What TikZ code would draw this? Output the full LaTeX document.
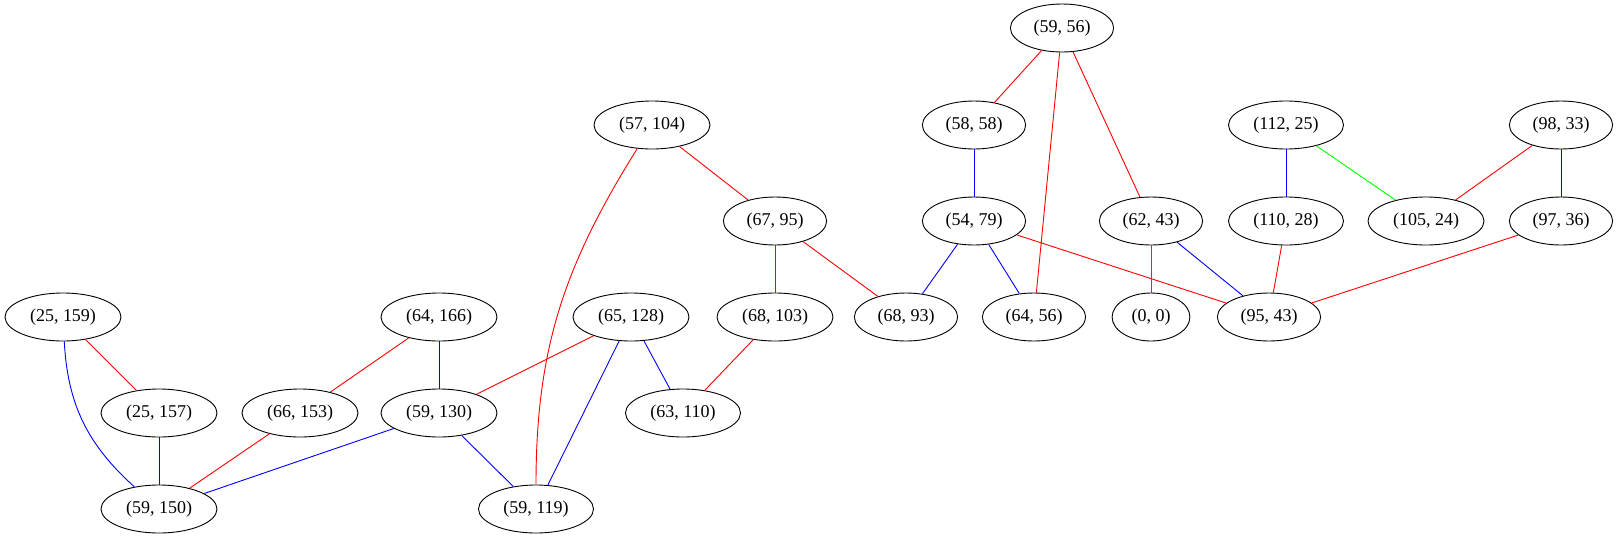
\documentclass[tikz,border=0pt]{standalone}
\usepackage{fontspec}
\setmainfont{Liberation Serif}
\usetikzlibrary{shapes.geometric}
\definecolor{gvpurple}{HTML}{A020F0}

\begin{document}
\begin{tikzpicture}[x=1pt, y=1pt,
        pt/.style={draw, ellipse, line width=0.9pt, inner xsep=8pt, inner ysep=0pt,
                   minimum height=48pt, font=\fontsize{18}{20}\selectfont},
        every path/.style={line width=0.9pt}]

                \useasboundingbox (0,0) rectangle (1618,-539);

                % Linha 1
                \node[pt] (n5956) at (1062,-28) {(59, 56)};

                % Linha 2
                \node[pt] (n57104) at (652,-125) {(57, 104)};
                \node[pt] (n5858) at (974,-125) {(58, 58)};
                \node[pt] (n11225) at (1286,-125) {(112, 25)};
                \node[pt] (n9833) at (1561,-125) {(98, 33)};

                % Linha 3
                \node[pt] (n6795) at (775,-221) {(67, 95)};
                \node[pt] (n5479) at (974,-221) {(54, 79)};
                \node[pt] (n6243) at (1151,-221) {(62, 43)};
                \node[pt] (n11028) at (1286,-221) {(110, 28)};
                \node[pt] (n10524) at (1426,-221) {(105, 24)};
                \node[pt] (n9736) at (1561,-221) {(97, 36)};

                % Linha 4
                \node[pt] (n25159) at (63,-317) {(25, 159)};
                \node[pt] (n64166) at (439,-317) {(64, 166)};
                \node[pt] (n65128) at (631,-317) {(65, 128)};
                \node[pt] (n68103) at (775,-317) {(68, 103)};
                \node[pt] (n6893) at (906,-317) {(68, 93)};
                \node[pt] (n6456) at (1034,-317) {(64, 56)};
                \node[pt] (n00) at (1151,-317) {(0, 0)};
                \node[pt] (n9543) at (1269,-317) {(95, 43)};

                % Linha 5
                \node[pt] (n25157) at (159,-413) {(25, 157)};
                \node[pt] (n66153) at (300,-413) {(66, 153)};
                \node[pt] (n59130) at (439,-413) {(59, 130)};
                \node[pt] (n63110) at (683,-413) {(63, 110)};

                % Linha 6
                \node[pt] (n59150) at (159,-509) {(59, 150)};
                \node[pt] (n59119) at (536,-509) {(59, 119)};

                % Arestas vermelhas
                \draw[red] (n5956) -- (n5858);
                \draw[red] (n5956) -- (n6456);
                \draw[red] (n5956) -- (n6243);
                \draw[red] (n57104) -- (n6795);
                \draw[red] (n57104) to[out=-122, in=90] (n59119);
                \draw[red] (n9833) -- (n10524);
                \draw[red] (n6795) -- (n68103);
                \draw[red] (n6795) -- (n6893);
                \draw[red] (n5479) -- (n9543);
                \draw[red] (n11028) -- (n9543);
                \draw[red] (n9736) -- (n9543);
                \draw[red] (n25159) -- (n25157);
                \draw[red] (n64166) -- (n66153);
                \draw[red] (n65128) -- (n59130);
                \draw[red] (n68103) -- (n63110);
                \draw[red] (n66153) -- (n59150);

                % Arestas azuis
                \draw[blue] (n5858) -- (n5479);
                \draw[blue] (n11225) -- (n11028);
                \draw[blue] (n9833) -- (n9736);
                \draw[blue] (n5479) -- (n6893);
                \draw[blue] (n5479) -- (n6456);
                \draw[blue] (n6243) -- (n9543);
                \draw[blue] (n25159) to[out=-87, in=138] (n59150);
                \draw[blue] (n64166) -- (n59130);
                \draw[blue] (n65128) -- (n59119);
                \draw[blue] (n65128) -- (n63110);
                \draw[blue] (n25157) -- (n59150);
                \draw[blue] (n59130) -- (n59150);
                \draw[blue] (n59130) -- (n59119);

                % Outras cores
                \draw[green] (n11225) -- (n10524);
                \draw[gvpurple] (n6243) -- (n00);

\end{tikzpicture}
\end{document}
